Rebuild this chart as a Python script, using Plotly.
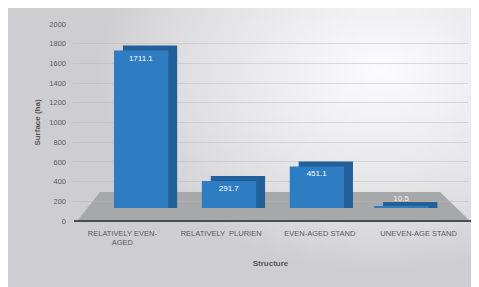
import base64
import struct
import zlib
import math
import plotly.graph_objects as go

categories = ["RELATIVELY EVEN-<br>AGED", "RELATIVELY  PLURIEN", "EVEN-AGED STAND", "UNEVEN-AGE STAND"]
surface_ha = [1711.1, 291.7, 451.1, 10.5]
y_ticks = [0, 200, 400, 600, 800, 1000, 1200, 1400, 1600, 1800, 2000]

PAGE = 8  # page body margin
W, H = 471, 279
L, R, T, B = 65, 11, 16, 66
pw, ph = W - L - R, H - T - B


def px(xs):  # screen x -> paper
    return (xs - PAGE - L) / pw


def py(ys):  # screen y -> paper
    return (H - B - (ys - PAGE)) / ph


# ---- background gradient as a tiny PNG (styling only)
def gradient_png(gw=60, gh=36):
    rows = b""
    for j in range(gh):
        row = b"\x00"
        ys = PAGE + (j + 0.5) / gh * H
        for i in range(gw):
            xs = PAGE + (i + 0.5) / gw * W
            d = math.hypot((xs - 380) / 280.0, (ys - 70) / 200.0)
            t = max(0.0, 1.0 - d)
            v = 206 + (252 - 206) * (t ** 0.8)
            c = int(round(v))
            row += bytes([c, c, min(255, c + 2)])
        rows += row
    def chunk(tag, data):
        return struct.pack(">I", len(data)) + tag + data + struct.pack(">I", zlib.crc32(tag + data) & 0xffffffff)
    png = b"\x89PNG\r\n\x1a\n"
    png += chunk(b"IHDR", struct.pack(">IIBBBBB", gw, gh, 8, 2, 0, 0, 0))
    png += chunk(b"IDAT", zlib.compress(rows, 9))
    png += chunk(b"IEND", b"")
    return "data:image/png;base64," + base64.b64encode(png).decode()


bar_w = 0.55
offsets = [-0.085, -0.195, -0.305, -0.45]
depth_dx = 0.09
depth_dy = 55

front = "#2e7dc2"
sidec = "#22609a"

fig = go.Figure()

# depth (side/top) faces
fig.add_trace(go.Bar(
    x=categories, y=[v + depth_dy for v in surface_ha],
    width=bar_w, offset=[o + depth_dx for o in offsets],
    marker=dict(color=sidec, line=dict(width=0)), hoverinfo="skip",
    showlegend=False,
))
# front faces
fig.add_trace(go.Bar(
    x=categories, y=surface_ha, width=bar_w, offset=offsets,
    marker=dict(color=front, line=dict(width=0)),
    text=[f"{v:.1f}" for v in surface_ha],
    textposition=["inside", "inside", "inside", "outside"],
    insidetextanchor="end",
    textfont=dict(color="white", size=8, family="Liberation Sans"),
    outsidetextfont=dict(color="#f2f2f2", size=8),
    cliponaxis=False,
    showlegend=False,
))
# invisible trace carrying the tick axis
fig.add_trace(go.Scatter(x=categories, y=surface_ha, yaxis="y2", mode="markers",
                         marker=dict(opacity=0), hoverinfo="skip", showlegend=False))

shapes = [
    # floor
    dict(type="path", xref="paper", yref="paper",
         path=f"M {px(77)},{py(221)} L {px(100)},{py(192)} L {px(440)},{py(192)} L {px(470)},{py(221)} Z",
         fillcolor="#a7a8aa", line=dict(width=0), layer="below"),
    dict(type="line", xref="paper", yref="paper", x0=px(74), x1=px(471),
         y0=py(221), y1=py(221), line=dict(color="#4d4d4d", width=2), layer="above"),
]

fig.update_layout(
    width=W, height=H,
    margin=dict(l=L, r=R, t=T, b=B),
    paper_bgcolor="#d6d7d9", plot_bgcolor="rgba(0,0,0,0)",
    barmode="overlay",
    font=dict(family="Liberation Sans", color="#595959", size=8),
    images=[dict(source=gradient_png(), xref="paper", yref="paper",
                 x=px(PAGE), y=py(PAGE), sizex=px(PAGE + W) - px(PAGE),
                 sizey=py(PAGE) - py(PAGE + H), sizing="stretch",
                 xanchor="left", yanchor="top", layer="below")],
    shapes=shapes,
    xaxis=dict(range=[-0.5, 3.5], showgrid=False, zeroline=False, showline=False,
               ticks="", tickfont=dict(size=7.5, color="#5a5a5a"), ticklabelstandoff=6,
               title=dict(text="<b>Structure</b>", font=dict(size=8, color="#555"), standoff=14)),
    yaxis=dict(range=[-142, 2000], visible=False),
    yaxis2=dict(range=[0, 2000], overlaying="y", side="left", tickvals=y_ticks,
                showgrid=True, gridcolor="rgba(185,185,185,0.45)", gridwidth=1,
                zeroline=False, showline=False, ticks="",
                tickfont=dict(size=7.5, color="#5a5a5a"), ticklabelstandoff=6,
                title=dict(text="<b>Surface (ha)</b>", font=dict(size=8, color="#555"), standoff=7)),
)

fig.write_html("out.html")
